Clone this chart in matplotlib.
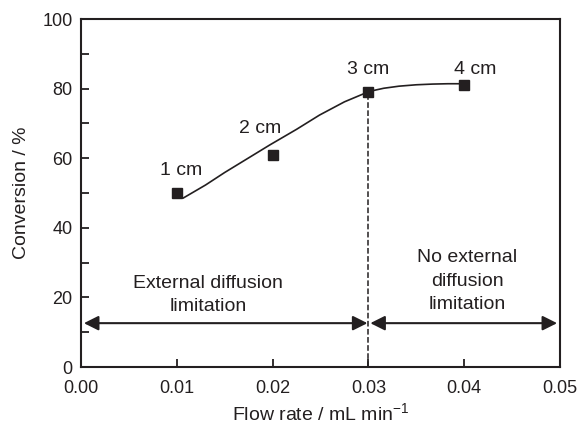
import numpy as np
import matplotlib
matplotlib.use('Agg')
import matplotlib.pyplot as plt
from matplotlib.ticker import MultipleLocator, FormatStrFormatter

plt.rcParams['font.family'] = ['Liberation Sans', 'DejaVu Sans']
plt.rcParams['mathtext.default'] = 'regular'

# measured points (bed length labels)
flow_rate = [0.01, 0.02, 0.03, 0.04]
conversion = [50, 61, 79, 81]
bed_labels = ['1 cm', '2 cm', '3 cm', '4 cm']

# trend curve
curve_x = [0.0107, 0.0130, 0.0150, 0.0175, 0.0197, 0.0225, 0.0249, 0.0275,
           0.0301, 0.0316, 0.0332, 0.0350, 0.0367, 0.0383, 0.0398]
curve_y = [48.6, 52.3, 55.9, 60.1, 63.8, 68.3, 72.4, 76.2,
           79.2, 80.1, 80.7, 81.1, 81.3, 81.4, 81.4]

ink = '#231f20'

fig = plt.figure(figsize=(5.8, 4.3), dpi=100)
ax = fig.add_axes([0.1397, 0.1465, 0.8258, 0.8093])

ax.plot(curve_x, curve_y, color=ink, lw=1.2, zorder=2)
ax.plot(flow_rate, conversion, 's', color=ink, ms=7.5, zorder=3)
ax.plot([0.03, 0.03], [0, conversion[2]], '--', color=ink, lw=1.1, zorder=1)

label_pos = [(0.0105, 56.6), (0.0187, 68.5), (0.0300, 85.5), (0.0411, 85.5)]
for lab, (lx, ly) in zip(bed_labels, label_pos):
    ax.text(lx, ly, lab, ha='center', va='center', fontsize=14, color=ink)

arrow = dict(arrowstyle='<|-|>', color=ink, lw=1.5, mutation_scale=22,
             shrinkA=0, shrinkB=0)
ax.annotate('', xy=(0.0299, 12.6), xytext=(0.0003, 12.6), arrowprops=arrow)
ax.annotate('', xy=(0.0497, 12.6), xytext=(0.0302, 12.6), arrowprops=arrow)

ax.text(0.0133, 20.7, 'External diffusion\nlimitation', ha='center', va='center',
        fontsize=14, color=ink, linespacing=1.5)
ax.text(0.0403, 24.7, 'No external\ndiffusion\nlimitation', ha='center', va='center',
        fontsize=14, color=ink, linespacing=1.5)

ax.set_xlim(0, 0.05)
ax.set_ylim(0, 100)
ax.xaxis.set_major_locator(MultipleLocator(0.01))
ax.xaxis.set_major_formatter(FormatStrFormatter('%.2f'))
ax.yaxis.set_major_locator(MultipleLocator(20))
ax.yaxis.set_minor_locator(MultipleLocator(10))
ax.tick_params(which='both', direction='in', length=6, width=1.3, labelsize=13,
               color=ink, labelcolor=ink)
ax.tick_params(axis='x', pad=9)
ax.tick_params(axis='y', which='both', pad=6)
for s in ax.spines.values():
    s.set_linewidth(1.5)
    s.set_color(ink)

ax.set_xlabel('Flow rate / mL min$^{-1}$', fontsize=14, color=ink, labelpad=4)
ax.set_ylabel('Conversion / %', fontsize=14, color=ink, labelpad=9)

fig.savefig('out.png', dpi=100)
